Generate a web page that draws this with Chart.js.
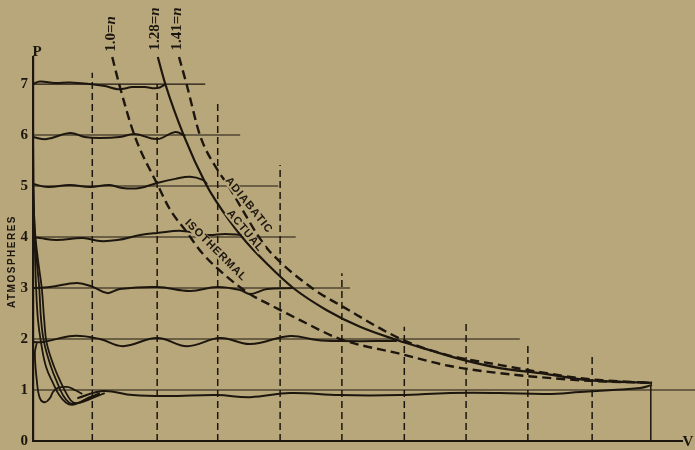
<!DOCTYPE html>
<html><head><meta charset="utf-8">
<script src="https://cdn.jsdelivr.net/npm/chart.js@4.4.1/dist/chart.umd.min.js"></script>
<style>html,body{margin:0;padding:0;background:#b8a77a;}canvas{display:block;}</style>
</head><body>
<canvas id="c" width="695" height="450"></canvas>
<script>
// ---- values (V in stroke units, P in atmospheres) ----
const PRESSURE_TICKS = [0, 1, 2, 3, 4, 5, 6, 7];

const V_ISOTHERMAL = [1.27, 1.38, 1.63, 1.99, 2.20, 2.45, 2.70, 3.08, 3.48, 3.80, 4.28, 4.92, 5.88, 6.68, 7.48, 8.13, 8.93, 9.92];
const P_ISOTHERMAL = [7.53, 7.00, 5.98, 5.04, 4.53, 4.12, 3.70, 3.25, 2.88, 2.67, 2.37, 2.00, 1.71, 1.47, 1.33, 1.25, 1.18, 1.14];

const V_ACTUAL = [2.00, 2.12, 2.42, 2.77, 2.92, 3.35, 3.77, 4.17, 4.70, 5.24, 5.83, 6.36, 6.89, 7.48, 8.13, 8.93, 9.92];
const P_ACTUAL = [7.53, 7.00, 5.98, 5.04, 4.73, 4.00, 3.45, 3.00, 2.57, 2.24, 1.98, 1.78, 1.59, 1.43, 1.33, 1.19, 1.14];

const V_ADIABATIC = [2.34, 2.46, 2.68, 2.96, 3.11, 3.62, 3.77, 4.47, 4.97, 5.93, 6.63, 7.48, 8.13, 8.93, 9.92];
const P_ADIABATIC = [7.53, 7.00, 5.98, 5.31, 5.04, 4.00, 3.75, 3.00, 2.63, 1.98, 1.69, 1.49, 1.35, 1.21, 1.14];

// indicator cards (wavy delivery lines) at each pressure
const V_CARD_7 = [0, 0.11, 0.35, 0.59, 0.91, 1.15, 1.36, 1.60, 1.79, 1.99, 2.13];
const P_CARD_7 = [7.00, 7.05, 7.02, 7.03, 7.00, 6.96, 6.90, 6.94, 6.94, 6.92, 7.00];
const V_CARD_6 = [0, 0.22, 0.59, 0.83, 1.07, 1.39, 1.63, 1.99, 2.28, 2.44];
const P_CARD_6 = [5.96, 5.92, 6.04, 5.96, 5.94, 5.96, 6.02, 5.92, 6.06, 5.98];
const V_CARD_5 = [0, 0.24, 0.59, 0.91, 1.23, 1.43, 1.71, 1.99, 2.28, 2.52, 2.72, 2.79];
const P_CARD_5 = [5.04, 4.98, 5.02, 4.98, 5.02, 4.96, 4.96, 5.06, 5.14, 5.18, 5.12, 5.04];
const V_CARD_4 = [0, 0.11, 0.38, 0.80, 1.07, 1.35, 1.72, 1.99, 2.39, 2.79, 3.08, 3.35];
const P_CARD_4 = [4.00, 3.98, 3.94, 3.98, 3.92, 3.94, 4.04, 4.08, 4.12, 4.04, 4.06, 4.04];
const V_CARD_3 = [0, 0.27, 0.71, 0.96, 1.19, 1.39, 1.99, 2.52, 2.95, 3.32, 3.48, 3.75, 4.17];
const P_CARD_3 = [3.00, 3.02, 3.10, 3.02, 2.90, 2.98, 3.02, 2.94, 3.02, 2.96, 2.88, 2.98, 3.00];
const V_CARD_2 = [0, 0.16, 0.64, 1.07, 1.44, 1.99, 2.47, 3.00, 3.48, 4.12, 4.55, 4.92, 5.83];
const P_CARD_2 = [1.94, 1.94, 2.06, 2.00, 1.86, 2.02, 1.86, 2.02, 1.90, 2.06, 1.98, 1.96, 1.96];
const V_CARD_1 = [0.71, 1.12, 1.60, 2.15, 2.95, 3.48, 4.12, 4.92, 5.88, 6.68, 7.48, 8.24, 8.77, 9.29, 9.73, 9.92];
const P_CARD_1 = [0.84, 0.98, 0.90, 0.88, 0.90, 0.86, 0.94, 0.90, 0.90, 0.94, 0.94, 0.92, 0.96, 1.00, 1.04, 1.10];

// re-expansion lines near the P axis
const V_REEXP_A = [0.06, 0.03, 0.06, 0.11, 0.19, 0.27, 0.32, 0.40, 0.55, 0.67, 0.79];
const P_REEXP_A = [1.92, 1.73, 1.20, 0.84, 0.76, 0.84, 0.96, 1.04, 1.06, 1.00, 0.92];
const V_REEXP_B = [0, 0, 0.03, 0.05, 0.08, 0.13, 0.21, 0.32, 0.42, 0.53, 0.63, 0.75, 0.91, 1.07];
const P_REEXP_B = [7.00, 4.73, 3.75, 3.00, 2.37, 1.92, 1.45, 1.14, 0.90, 0.75, 0.71, 0.76, 0.86, 0.94];
const V_REEXP_C = [0, 0.02, 0.06, 0.10, 0.13, 0.18, 0.29, 0.39, 0.48, 0.58, 0.67, 0.83, 1.07];
const P_REEXP_C = [5.98, 4.33, 3.55, 3.00, 2.37, 1.92, 1.45, 1.14, 0.90, 0.75, 0.73, 0.80, 0.92];
const V_REEXP_D = [0, 0.03, 0.08, 0.14, 0.18, 0.22, 0.34, 0.45, 0.55, 0.64, 0.75, 0.95, 1.15];
const P_REEXP_D = [5.04, 4.14, 3.55, 3.00, 2.37, 1.92, 1.45, 1.14, 0.90, 0.76, 0.75, 0.84, 0.94];

// straight pressure lines and dashed volume ordinates
const LEVELS = [1, 2, 3, 4, 5, 6, 7];
const LEVEL_LINE_ENDS = [10.61, 7.80, 5.08, 4.21, 3.93, 3.32, 2.76];
const V_ORDINATES = [0.95, 1.99, 2.96, 3.96, 4.95, 5.95, 6.94, 7.93, 8.96];
const P_ORDINATE_TOPS = [7.22, 7.00, 6.65, 5.41, 3.29, 2.24, 2.31, 1.92, 1.65];
const V_END = 9.90;
const P_END = 1.10;

const CURVE_NAMES = ['ADIABATIC', 'ACTUAL', 'ISOTHERMAL'];
const EXPONENTS = ['1.0', '1.28', '1.41'];

// ---- drawing ----
const INK = '#1c160f';
const BG = '#b8a77a';

function pts(xs, ys) { return xs.map((x, i) => ({ x: x, y: ys[i] })); }
function ds(data, style) {
  return Object.assign({ data: data, showLine: true, pointRadius: 0, pointHoverRadius: 0,
    borderColor: INK, backgroundColor: INK, fill: false, borderWidth: 2 }, style);
}

const datasets = [];
LEVELS.forEach((p, i) => {
  datasets.push(ds([{ x: 0, y: p }, { x: LEVEL_LINE_ENDS[i], y: p }], { borderWidth: 1.2, clip: false }));
});
V_ORDINATES.forEach((v, i) => {
  datasets.push(ds([{ x: v, y: 0 }, { x: v, y: P_ORDINATE_TOPS[i] }], { borderWidth: 1.5, borderDash: [7, 4] }));
});
datasets.push(ds([{ x: V_END, y: 0 }, { x: V_END, y: P_END }], { borderWidth: 1.5 }));
[[V_CARD_7, P_CARD_7], [V_CARD_6, P_CARD_6], [V_CARD_5, P_CARD_5], [V_CARD_4, P_CARD_4],
 [V_CARD_3, P_CARD_3], [V_CARD_2, P_CARD_2], [V_CARD_1, P_CARD_1]].forEach(c => {
  datasets.push(ds(pts(c[0], c[1]), { borderWidth: 2, tension: 0.4 }));
});
[[V_REEXP_A, P_REEXP_A], [V_REEXP_B, P_REEXP_B], [V_REEXP_C, P_REEXP_C], [V_REEXP_D, P_REEXP_D]].forEach(c => {
  datasets.push(ds(pts(c[0], c[1]), { borderWidth: 1.8, tension: 0.4 }));
});
datasets.push(ds(pts(V_ISOTHERMAL, P_ISOTHERMAL), { borderWidth: 2.4, borderDash: [9, 5], cubicInterpolationMode: 'monotone', clip: false }));
datasets.push(ds(pts(V_ACTUAL, P_ACTUAL), { borderWidth: 2.2, cubicInterpolationMode: 'monotone', clip: false }));
datasets.push(ds(pts(V_ADIABATIC, P_ADIABATIC), { borderWidth: 2.4, borderDash: [9, 5], cubicInterpolationMode: 'monotone', clip: false }));

// text annotations anchored in data space
const CURVE_LABEL_AT = [[3.46, 4.62, 51], [3.40, 4.12, 50], [2.93, 3.74, 45]];
const EXPONENT_LABEL_AT = [[1.25, 7.98], [1.96, 8.08], [2.31, 8.08]];

const bgPlugin = {
  id: 'bg',
  beforeDraw(chart) {
    const c = chart.ctx; c.save(); c.fillStyle = BG; c.fillRect(0, 0, chart.width, chart.height); c.restore();
  }
};

const textPlugin = {
  id: 'texts',
  afterDatasetsDraw(chart) {
    const c = chart.ctx, xs = chart.scales.x, ys = chart.scales.y;
    c.save();
    c.fillStyle = INK;
    c.textAlign = 'center'; c.textBaseline = 'middle';
    CURVE_NAMES.forEach((t, i) => {
      const a = CURVE_LABEL_AT[i];
      c.save();
      c.translate(xs.getPixelForValue(a[0]), ys.getPixelForValue(a[1]));
      c.rotate(a[2] * Math.PI / 180);
      c.font = 'bold 11px "Liberation Sans", Arial, sans-serif';
      if ('letterSpacing' in c) c.letterSpacing = '1px';
      const w = c.measureText(t).width;
      c.fillStyle = BG;
      c.fillRect(-w / 2 - 1, -5, w + 2, 10);
      c.fillStyle = INK;
      c.fillText(t, 0, 0);
      c.restore();
    });
    if ('letterSpacing' in c) c.letterSpacing = '0px';
    EXPONENTS.forEach((t, i) => {
      const a = EXPONENT_LABEL_AT[i];
      c.save();
      c.translate(xs.getPixelForValue(a[0]), ys.getPixelForValue(a[1]));
      c.rotate(-Math.PI / 2);
      c.font = 'bold 15px "Liberation Serif", serif';
      const s1 = t + '=';
      const w1 = c.measureText(s1).width;
      c.font = 'bold italic 15px "Liberation Serif", serif';
      const w2 = c.measureText('n').width;
      const x0 = -(w1 + w2) / 2;
      c.textAlign = 'left';
      c.font = 'bold 15px "Liberation Serif", serif';
      c.fillText(s1, x0, 0);
      c.font = 'bold italic 15px "Liberation Serif", serif';
      c.fillText('n', x0 + w1, 0);
      c.restore();
    });
    c.font = 'bold 15px "Liberation Serif", serif';
    c.textAlign = 'center';
    c.fillText('P', xs.left + 4, ys.top - 5);
    c.fillText('V', xs.right + 6, ys.bottom + 1);
    c.save();
    c.translate(12, ys.getPixelForValue(3.52));
    c.rotate(-Math.PI / 2);
    c.font = 'bold 10px "Liberation Sans", Arial, sans-serif';
    if ('letterSpacing' in c) c.letterSpacing = '1.5px';
    c.fillText('ATMOSPHERES', 0, 0);
    c.restore();
    c.restore();
  }
};

new Chart(document.getElementById('c'), {
  type: 'scatter',
  data: { datasets: datasets },
  options: {
    responsive: false, animation: false, devicePixelRatio: 1,
    layout: { padding: { top: 57, right: 13, left: 0, bottom: 0 } },
    plugins: { legend: { display: false }, tooltip: { enabled: false } },
    scales: {
      x: {
        type: 'linear', min: 0, max: 10.4,
        grid: { display: false, drawTicks: false },
        ticks: { display: false },
        border: { display: true, color: INK, width: 2 },
        afterFit(s) { s.height = 9; s.paddingLeft = 0; s.paddingRight = 0; }
      },
      y: {
        type: 'linear', min: 0, max: 7.53,
        grid: { display: false, drawTicks: false },
        border: { display: true, color: INK, width: 2.2 },
        ticks: { color: INK, padding: 5, font: { family: '"Liberation Serif", serif', size: 15, weight: 'bold' } },
        afterBuildTicks(s) { s.ticks = PRESSURE_TICKS.map(v => ({ value: v })); },
        afterFit(s) { s.width = 33; s.paddingTop = 0; s.paddingBottom = 0; }
      }
    }
  },
  plugins: [bgPlugin, textPlugin]
});
</script>
</body></html>
